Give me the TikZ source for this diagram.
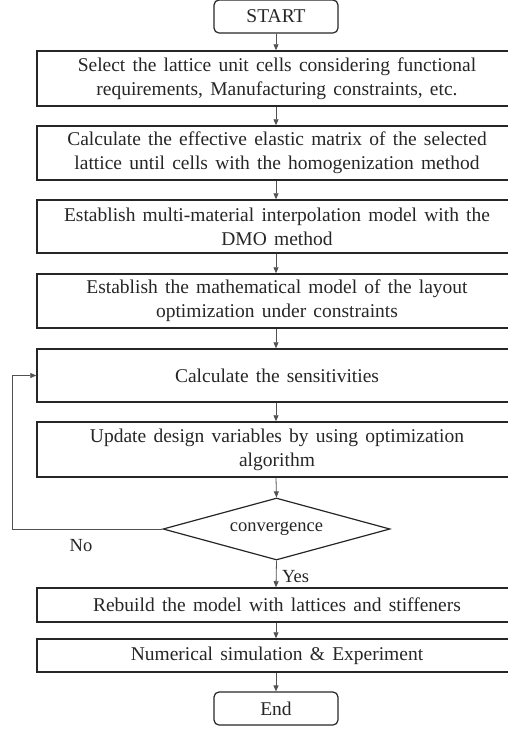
\documentclass[tikz,border=0pt]{standalone}
\usepackage{fontspec}
\setmainfont{Liberation Serif}
\usetikzlibrary{shapes.geometric,arrows.meta}
\definecolor{ink}{HTML}{262626}
\newcommand{\wsp}{\spaceskip=0.37em plus 0.1em minus 0.05em\relax}
\tikzset{
  box/.style={draw=ink, line width=1.5pt, minimum width=480pt, align=center, inner sep=0pt, text=ink, font=\fontsize{19.5}{24}\selectfont\wsp},
  term/.style={draw=ink, line width=1.2pt, rounded corners=5pt, minimum width=124pt, minimum height=33pt, inner sep=0pt, text=ink, font=\fontsize{19.5}{24}\selectfont},
  dia/.style={draw=ink, line width=1.2pt, shape=diamond, aspect=3.66, minimum width=227pt, minimum height=62pt, inner sep=0pt, text=ink, font=\fontsize{18.5}{20}\selectfont},
  arr/.style={draw=ink!80, line width=0.8pt, -{Triangle[length=6pt,width=5pt]}},
  lbl/.style={text=ink, font=\fontsize{18.5}{20}\selectfont, inner sep=0pt}
}
\begin{document}
\begin{tikzpicture}[x=1pt,y=-1pt]
\useasboundingbox (0,0) rectangle (508,729);
\clip (0,0) rectangle (508,729);
\node[term] (start) at (276,16.5) {START};
\node[box, minimum height=55pt] (b1) at (277,78.5) {Select the lattice unit cells considering functional\\requirements, Manufacturing constraints, etc.};
\node[box, minimum height=54pt] (b2) at (277,153) {Calculate the effective elastic matrix of the selected\\lattice until cells with the homogenization method};
\node[box, minimum height=53pt] (b3) at (277,226.5) {Establish multi-material interpolation model with the\\DMO method};
\node[box, minimum height=54pt] (b4) at (277,301) {Establish the mathematical model of the layout\\optimization under constraints};
\node[box, minimum height=53pt] (b5) at (277,375.5) {Calculate the sensitivities};
\node[box, minimum height=55pt] (b6) at (277,449.5) {Update design variables by using optimization\\algorithm};
\node[dia] (d) at (276.5,529) {convergence};
\node[box, minimum height=34pt] (b7) at (277,605) {Rebuild the model with lattices and stiffeners};
\node[box, minimum height=33pt] (b8) at (277,655.5) {Numerical simulation \& Experiment};
\node[term] (end) at (276,708.5) {End};
\coordinate (fb) at (12,529);
\draw[arr] (start.south) -- (start.south |- b1.north);
\draw[arr] (start.south |- b1.south) -- (start.south |- b2.north);
\draw[arr] (start.south |- b2.south) -- (start.south |- b3.north);
\draw[arr] (start.south |- b3.south) -- (start.south |- b4.north);
\draw[arr] (start.south |- b4.south) -- (start.south |- b5.north);
\draw[arr] (start.south |- b5.south) -- (start.south |- b6.north);
\draw[arr] (start.south |- b6.south) -- (d.north);
\draw[arr] (d.south) -- (start.south |- b7.north);
\draw[arr] (start.south |- b7.south) -- (start.south |- b8.north);
\draw[arr] (start.south |- b8.south) -- (end.north);
\draw[arr] (d.west) -- (fb) |- (b5.west);
\node[lbl] (no) at (81,546) {No};
\node[lbl, anchor=west] (yes) at (282,577) {Yes};
\end{tikzpicture}
\end{document}
